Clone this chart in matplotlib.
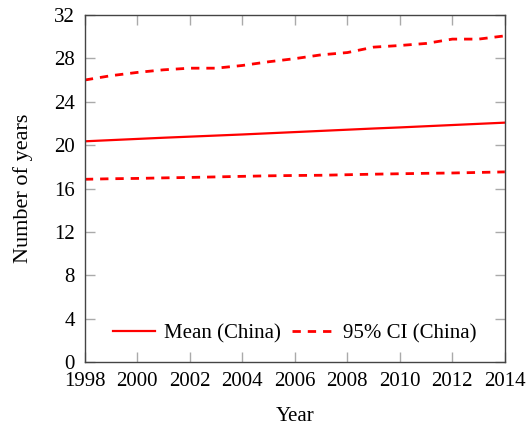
import numpy as np
import matplotlib
matplotlib.use("Agg")
from matplotlib import pyplot as plt

years = np.arange(1998, 2015)
mean_china = [20.35, 20.46, 20.57, 20.68, 20.78, 20.88, 20.98, 21.09, 21.20,
              21.31, 21.42, 21.53, 21.63, 21.74, 21.85, 21.96, 22.07]
ci_upper = [26.00, 26.40, 26.70, 26.94, 27.09, 27.09, 27.34, 27.68, 27.97,
            28.32, 28.53, 29.03, 29.18, 29.37, 29.77, 29.77, 30.07]
ci_lower = [16.85, 16.90, 16.93, 16.98, 17.02, 17.07, 17.12, 17.17, 17.20,
            17.22, 17.27, 17.32, 17.36, 17.40, 17.43, 17.48, 17.53]

plt.rcParams['font.family'] = ['Liberation Serif', 'DejaVu Serif']
plt.rcParams['font.size'] = 15

fig = plt.figure(figsize=(5.27, 4.26), dpi=100)
ax = fig.add_axes([0.161, 0.150, 0.797, 0.815])

ax.plot(years, mean_china, color='red', lw=1.6, label='Mean (China)')
ax.plot(years, ci_upper, color='red', lw=2.0, ls=(0, (3, 2.5)), label='95% CI (China)')
ax.plot(years, ci_lower, color='red', lw=2.0, ls=(0, (3, 2.5)))

ax.set_xlim(1998, 2014)
ax.set_ylim(0, 32)
ax.set_xticks(np.arange(1998, 2015, 2))
ax.set_yticks(np.arange(0, 33, 4))
ax.tick_params(direction='in', length=7, width=1.0, color='#aaaaaa',
               top=True, right=True, labelsize=15)
ax.tick_params(axis='x', pad=7)
ax.tick_params(axis='y', pad=7)
for s in ax.spines.values():
    s.set_color('#444444')
    s.set_linewidth(1.0)

ax.set_xlabel('Year', fontsize=15, labelpad=12)
ax.set_ylabel('Number of years', fontsize=16, labelpad=15)

ax.legend(loc='lower center', ncol=2, frameon=False, fontsize=15,
          bbox_to_anchor=(0.5, 0.0), handlelength=2.0, columnspacing=0.5,
          handletextpad=0.45)

fig.savefig('out.png', dpi=100)
